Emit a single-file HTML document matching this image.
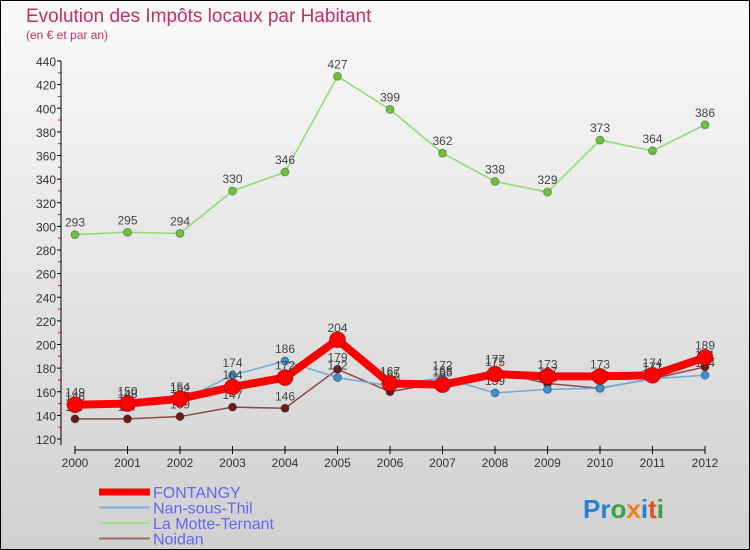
<!DOCTYPE html>
<html><head><meta charset="utf-8"><style>
body{margin:0;width:750px;height:550px;overflow:hidden;font-family:"Liberation Sans",sans-serif}
svg{display:block}
</style></head><body>
<svg id="chart" width="750" height="550" xmlns="http://www.w3.org/2000/svg">
<defs><linearGradient id="bg" x1="0" y1="0" x2="0" y2="1"><stop offset="0" stop-color="#fafafa"/><stop offset="1" stop-color="#d0d0d0"/></linearGradient></defs>
<rect x="0.5" y="0.5" width="749" height="549" fill="url(#bg)" stroke="#000"/>
<text x="26" y="22" font-size="19" fill="#c0306a">Evolution des Impôts locaux par Habitant</text>
<text x="26" y="39" font-size="12" fill="#c0306a">(en € et par an)</text>
<g id="axes"></g><g id="series"></g><g id="legend"></g>
<text x="583" y="518" font-size="26" font-weight="bold" fill="#2a7fd0">Pr<tspan fill="#3aa040">o</tspan><tspan fill="#f08020">x</tspan><tspan fill="#2a7fd0">i</tspan><tspan fill="#e05020">t</tspan><tspan fill="#3aa040">i</tspan></text>
</svg>
<script>
const years=["2000","2001","2002","2003","2004","2005","2006","2007","2008","2009","2010","2011","2012"];
const yTicks=[120,140,160,180,200,220,240,260,280,300,320,340,360,380,400,420,440];
const fontangy=[149,150,154,164,172,204,167,166,175,173,173,174,189];
const nan=[146,148,152,174,186,172,165,172,159,162,163,171,174];
const motte=[293,295,294,330,346,427,399,362,338,329,373,364,386];
const noidan=[137,137,139,147,146,179,160,168,177,167,163,171,181];
const NS="http://www.w3.org/2000/svg";
const X=i=>75+i*52.5;
const Y=v=>439-(v-120)*(378/320);
function mk(tag,attrs,parent){const e=document.createElementNS(NS,tag);for(const k in attrs)e.setAttribute(k,attrs[k]);parent.appendChild(e);return e;}
const axes=document.getElementById('axes');
const ya=mk('line',{x1:61,y1:Y(440),x2:61,y2:Y(120)+6,stroke:'#000'},axes);


yTicks.forEach(v=>{
 const t=mk('text',{x:56,y:Y(v)+5,'font-size':12,'text-anchor':'end',fill:'#333'},axes);t.textContent=v;
 
 
 mk('line',{x1:57,y1:Y(v),x2:61,y2:Y(v),stroke:'#000'},axes);
 if(v<440)mk('line',{x1:58,y1:Y(v+10),x2:61,y2:Y(v+10),stroke:'#e00'},axes);
});
const xa=mk('line',{x1:X(0),y1:450,x2:X(12),y2:450,stroke:'#000'},axes);


years.forEach((y,i)=>{
 mk('line',{x1:X(i),y1:446,x2:X(i),y2:454,stroke:'#000'},axes);
 const t=mk('text',{x:X(i),y:467,'font-size':12,'text-anchor':'middle',fill:'#333'},axes);t.textContent=y;
 
 
});
const ser=document.getElementById('series');
function draw(data,name,color,width,r,dot){
 const g=mk('g',{},ser);
 
 
 mk('polyline',{points:data.map((v,i)=>X(i)+','+Y(v)).join(' '),fill:'none',stroke:color,'stroke-width':width,'stroke-linejoin':'round'},g);
 data.forEach((v,i)=>{
  const c=mk('circle',{cx:X(i),cy:Y(v),r:r,fill:dot,stroke:'rgba(0,0,0,0.3)'},g);
  
  
  const t=mk('text',{x:X(i),y:Y(v)-8,'font-size':12,'text-anchor':'middle',fill:'#444'},g);t.textContent=v;
  
  
 });
}
draw(noidan,'noidan','#8a4a4a',1.5,4,'#6a1a1a');
draw(motte,'la-motte-ternant','#90d870',1.5,4,'#70c040');
draw(nan,'nan-sous-thil','#70a8d8',1.5,4,'#3a90d0');
draw(fontangy,'fontangy','#f00',8,8,'#f00');
const lg=document.getElementById('legend');
[["FONTANGY","#f00",7],["Nan-sous-Thil","#80b0d8",2],["La Motte-Ternant","#a0e080",2],["Noidan","#9a6a6a",2]].forEach((d,i)=>{
 const y=492+i*15.5;
 const g=mk('g',{},lg);
 
 
 mk('line',{x1:99,y1:y,x2:150,y2:y,stroke:d[1],'stroke-width':d[2]},g);
 const t=mk('text',{x:153,y:y+6,'font-size':16,fill:'#6666ee'},g);t.textContent=d[0];
});
</script>
</body></html>
